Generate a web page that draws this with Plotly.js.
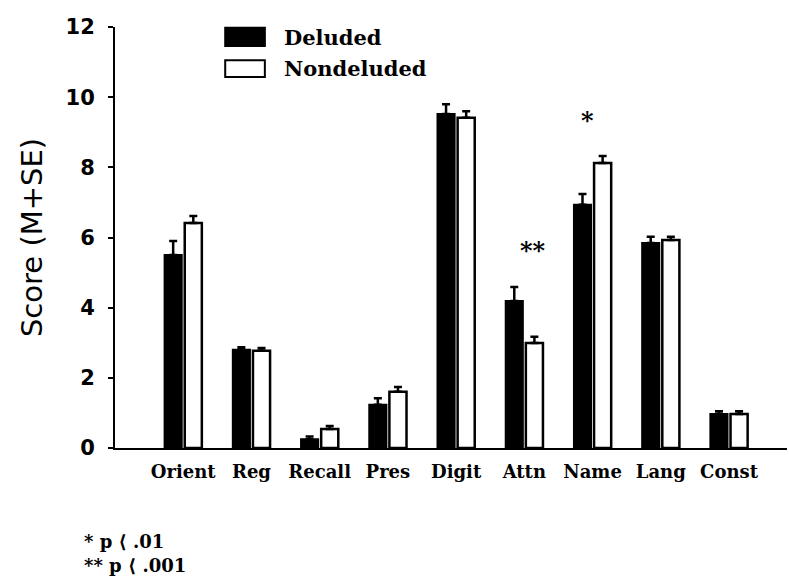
<!DOCTYPE html>
<html>
<head>
<meta charset="utf-8">
<script src="https://cdn.plot.ly/plotly-3.0.1.min.js"></script>
<style>html,body{margin:0;padding:0;background:#fff;}</style>
</head>
<body>
<div id="chart" style="width:789px;height:576px;"></div>
<script>
const categories = ['Orient', 'Reg', 'Recall', 'Pres', 'Digit', 'Attn', 'Name', 'Lang', 'Const'];
const deludedMean = [5.5, 2.8, 0.25, 1.23, 9.52, 4.19, 6.93, 5.84, 0.97];
const deludedSE   = [0.4, 0.07, 0.08, 0.19, 0.28, 0.4, 0.31, 0.18, 0.08];
const nondelMean  = [6.41, 2.77, 0.54, 1.6, 9.41, 2.99, 8.12, 5.93, 0.97];
const nondelSE    = [0.2, 0.08, 0.09, 0.14, 0.19, 0.18, 0.2, 0.09, 0.08];
const significance = ['', '', '', '', '', '**', '*', '', ''];
const seriesNames = ['Deluded', 'Nondeluded'];
const footnotes = ['* p \u27E8 .01', '** p \u27E8 .001'];

const serifBold = 'DejaVu Serif, serif';

const traces = [
  {
    type: 'bar', name: seriesNames[0], x: categories, y: deludedMean,
    marker: {color: '#000', line: {color: '#000', width: 2}},
    error_y: {type: 'data', symmetric: false, array: deludedSE, arrayminus: deludedSE.map(() => 0),
              color: '#000', thickness: 2.5, width: 4},
    hoverinfo: 'skip'
  },
  {
    type: 'bar', name: seriesNames[1], x: categories, y: nondelMean,
    marker: {color: '#fff', line: {color: '#000', width: 2.5}},
    error_y: {type: 'data', symmetric: false, array: nondelSE, arrayminus: nondelSE.map(() => 0),
              color: '#000', thickness: 2.5, width: 4},
    hoverinfo: 'skip'
  }
];

const annotations = [];
categories.forEach((c, i) => {
  if (significance[i]) {
    const top = Math.max(deludedMean[i] + deludedSE[i], nondelMean[i] + nondelSE[i]);
    annotations.push({
      x: c, y: top, xref: 'x', yref: 'y', text: '<b>' + significance[i] + '</b>',
      showarrow: false, yanchor: 'middle', xanchor: 'center',
      xshift: significance[i].length === 2 ? 9 : -5, yshift: 36,
      font: {family: serifBold, size: 24, color: '#000'}
    });
  }
});
// manual legend labels
annotations.push({x: 0.249, y: 0.976, xref: 'paper', yref: 'paper', text: '<b>' + seriesNames[0] + '</b>',
  showarrow: false, xanchor: 'left', yanchor: 'middle', font: {family: serifBold, size: 21, color: '#000'}});
annotations.push({x: 0.249, y: 0.901, xref: 'paper', yref: 'paper', text: '<b>' + seriesNames[1] + '</b>',
  showarrow: false, xanchor: 'left', yanchor: 'middle', font: {family: serifBold, size: 21, color: '#000'}});
// footnotes
footnotes.forEach((f, i) => {
  annotations.push({x: -0.049, y: -0.221 - i * 0.058, xref: 'paper', yref: 'paper', text: '<b>' + f + '</b>',
    showarrow: false, xanchor: 'left', yanchor: 'middle', font: {family: serifBold, size: 18, color: '#000'}});
});

const shapes = [
  {type: 'rect', xref: 'paper', yref: 'paper', x0: 0.164, x1: 0.223, y0: 0.955, y1: 0.998,
   fillcolor: '#000', line: {color: '#000', width: 2}},
  {type: 'rect', xref: 'paper', yref: 'paper', x0: 0.164, x1: 0.223, y0: 0.881, y1: 0.921,
   fillcolor: '#fff', line: {color: '#000', width: 2}}
];

const layout = {
  width: 789, height: 576,
  margin: {l: 115, r: 2, t: 27, b: 128},
  paper_bgcolor: '#fff', plot_bgcolor: '#fff',
  showlegend: false,
  barmode: 'group', bargap: 0.41, bargroupgap: 0.15,
  xaxis: {
    type: 'category', range: [-1, 8.85],
    showline: true, linecolor: '#000', linewidth: 2,
    ticks: '', showgrid: false, zeroline: false,
    tickfont: {family: serifBold, size: 18, color: '#000', weight: 'bold'},
    ticklabelstandoff: 6
  },
  yaxis: {
    range: [0, 12], dtick: 2, tick0: 0,
    showline: true, linecolor: '#000', linewidth: 2,
    ticks: 'outside', ticklen: 5, tickwidth: 2, tickcolor: '#000',
    showgrid: false, zeroline: false,
    tickfont: {family: 'DejaVu Sans, sans-serif', size: 21, color: '#000', weight: 'bold'},
    ticklabelstandoff: 9,
    title: {text: 'Score (M+SE)', font: {family: 'DejaVu Sans, sans-serif', size: 29, color: '#000'}, standoff: 14}
  },
  annotations: annotations,
  shapes: shapes
};

Plotly.newPlot('chart', traces, layout, {displayModeBar: false, staticPlot: true});
</script>
</body>
</html>
